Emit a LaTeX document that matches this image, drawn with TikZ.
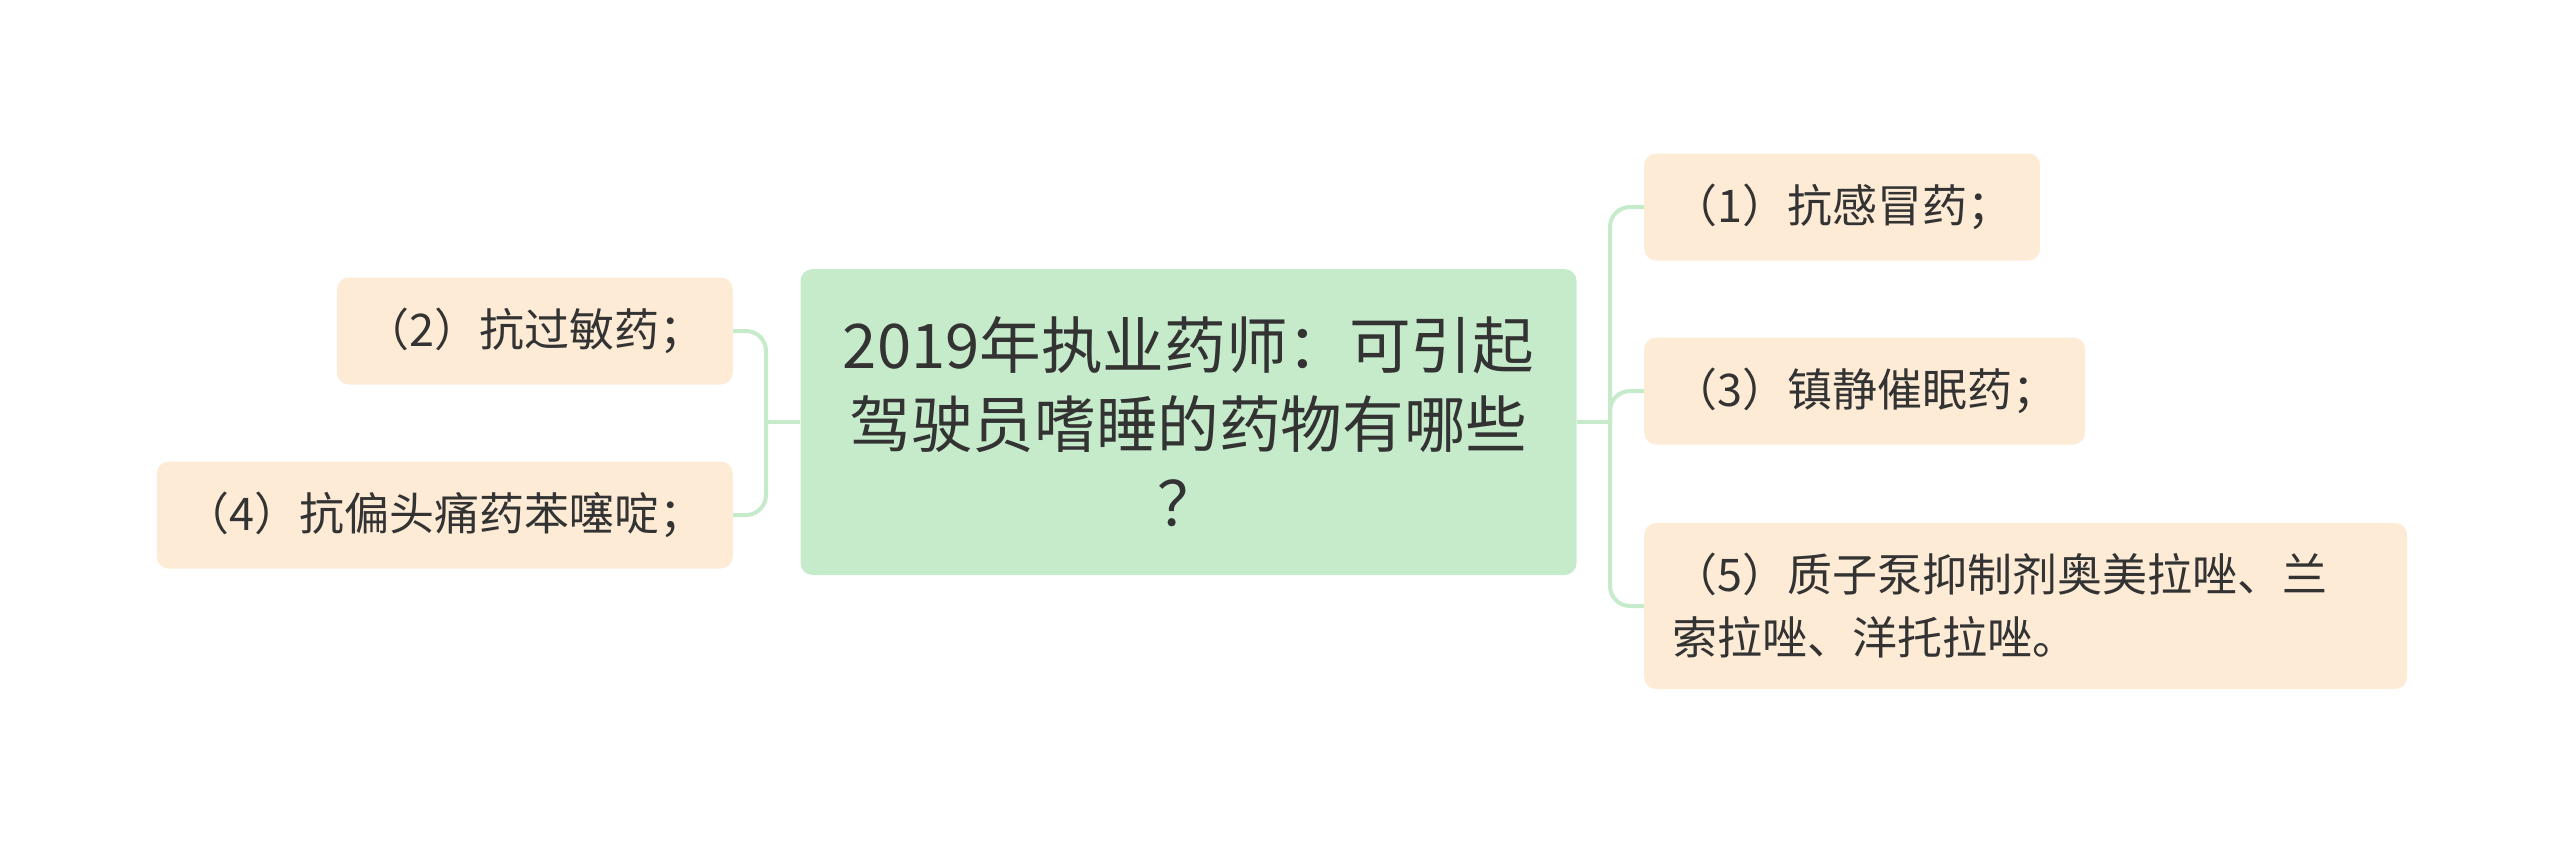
\documentclass[tikz,border=0pt]{standalone}
\usepackage{fontspec}
\setmainfont{Noto Sans CJK SC}
\usepackage{tikz}
\usepackage{xcolor}
\definecolor{rootgreen}{HTML}{C6EBCB}
\definecolor{leafpeach}{HTML}{FDEBD6}
\definecolor{linegreen}{HTML}{C6EBCB}
\definecolor{inkgray}{HTML}{333333}
\tikzstyle{rootbox} = [fill=rootgreen, rounded corners=12pt, text=inkgray, font=\fontsize{61.6}{79}\selectfont, text width=700pt, align=center, inner xsep=38pt, inner ysep=0pt, minimum height=306pt]
\tikzstyle{leafbox} = [fill=leafpeach, rounded corners=12pt, text=inkgray, font=\fontsize{45}{63}\selectfont, inner xsep=28pt, inner ysep=0pt, minimum height=107pt]
\tikzstyle{branch} = [draw=linegreen, line width=4pt, rounded corners=20pt]

\begin{document}
\begin{tikzpicture}[x=1pt,y=-1pt]
\useasboundingbox (0,0) rectangle (2560,844);
\node [rootbox] (root) at (1188.5,422) {2019年执业药师：可引起\\驾驶员嗜睡的药物有哪些\\？};
% right side
\node [leafbox, anchor=west] (n1) at (1644,207) {（1）抗感冒药；};
\node [leafbox, anchor=west] (n3) at (1644,391) {（3）镇静催眠药；};
\node [leafbox, anchor=west, text width=707pt, align=left, minimum height=166pt] (n5) at (1644,606) {（5）质子泵抑制剂奥美拉唑、兰\\索拉唑、洋托拉唑。};
% left side
\node [leafbox, anchor=east] (n2) at (733,331) {（2）抗过敏药；};
\node [leafbox, anchor=east] (n4) at (733,515) {（4）抗偏头痛药苯噻啶；};
\coordinate (rj) at (1610,422);
\coordinate (lj) at (766,422);
\draw [branch] (root.east) -- (rj);
\draw [branch] (rj) |- (n1.west);
\draw [branch] (rj) |- (n3.west);
\draw [branch] (rj) |- (n5.west);
\draw [branch] (root.west) -- (lj);
\draw [branch] (lj) |- (n2.east);
\draw [branch] (lj) |- (n4.east);
\end{tikzpicture}
\end{document}
